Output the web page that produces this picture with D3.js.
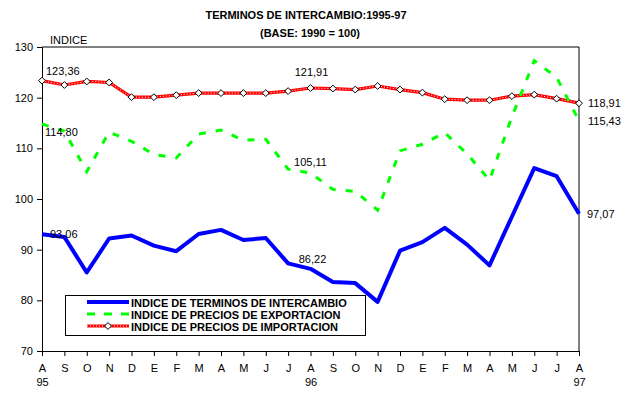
<!DOCTYPE html>
<html>
<head>
<meta charset="utf-8">
<script src="https://cdn.jsdelivr.net/npm/d3@7"></script>
<style>
  body { margin: 0; background: #fff; }
  text { font-family: Arial, "Liberation Sans", sans-serif; }
</style>
</head>
<body>
<div id="chart"></div>
<script>
// months aug-95 .. aug-97
months = ["A","S","O","N","D","E","F","M","A","M","J","J","A","S","O","N","D","E","F","M","A","M","J","J","A"]
years = ["95", "", "", "", "", "", "", "", "", "", "", "", "96", "", "", "", "", "", "", "", "", "", "", "", "97"]
yTicks = [70, 80, 90, 100, 110, 120, 130]

terminos = [93.06, 92.5, 85.5, 92.2, 92.8, 90.8, 89.7, 93.1, 93.9, 91.9, 92.3, 87.3, 86.22,
  83.6, 83.4, 79.7, 89.8, 91.5, 94.3, 91.0, 86.9, 96.5, 106.1, 104.5, 97.07]
exportacion = [114.80, 113.4, 105.4, 113.2, 111.4, 108.8, 108.1, 112.8, 113.6, 111.6, 111.8, 105.9, 105.11,
  101.9, 101.5, 97.8, 109.5, 110.8, 113.1, 108.9, 103.7, 116.2, 127.3, 124.0, 115.43]
importacion = [123.36, 122.5, 123.2, 123.0, 120.1, 120.1, 120.5, 120.9, 120.9, 120.9, 120.9, 121.3, 121.91,
  121.8, 121.6, 122.3, 121.6, 121.0, 119.7, 119.5, 119.5, 120.3, 120.6, 119.8, 118.91]

legendNames = ["INDICE DE TERMINOS DE INTERCAMBIO", "INDICE DE PRECIOS DE EXPORTACION", "INDICE DE PRECIOS DE IMPORTACION"]

const width = 628, height = 397
const margin = { top: 47, right: 49, bottom: 46, left: 42 }

const svg = d3.select("#chart").append("svg")
  .attr("width", width)
  .attr("height", height)

const x = d3.scalePoint()
  .domain(d3.range(months.length))
  .range([margin.left, width - margin.right])
const y = d3.scaleLinear()
  .domain([70, 130])
  .range([height - margin.bottom, margin.top])

// title
svg.append("text").attr("x", 306).attr("y", 19).attr("text-anchor", "middle")
  .style("font-size", "11px").style("font-weight", "bold")
  .text("TERMINOS DE INTERCAMBIO:1995-97")
svg.append("text").attr("x", 310).attr("y", 37).attr("text-anchor", "middle")
  .style("font-size", "11px").style("font-weight", "bold")
  .text("(BASE: 1990 = 100)")
svg.append("text").attr("x", 50).attr("y", 44)
  .style("font-size", "11px")
  .text("INDICE")

// plot frame (top + right)
svg.append("path")
  .attr("d", `M${margin.left},${margin.top}H${width - margin.right}V${height - margin.bottom}`)
  .attr("fill", "none").attr("stroke", "#000")

// axes
const yAxis = svg.append("g")
  .attr("transform", `translate(${margin.left},0)`)
  .call(d3.axisLeft(y).tickValues(yTicks).tickSize(5).tickPadding(4))
const xAxis = svg.append("g")
  .attr("transform", `translate(0,${height - margin.bottom})`)
  .call(d3.axisBottom(x).tickFormat(i => months[i]).tickSize(5).tickPadding(8))
svg.selectAll(".tick text").style("font-size", "11px").style("font-family", "Arial, 'Liberation Sans', sans-serif").attr("fill", "#000")
svg.selectAll(".domain").attr("stroke", "#000")

xAxis.selectAll(".tick")
  .append("text")
  .attr("y", 35)
  .attr("fill", "#000")
  .style("font-size", "11px")
  .attr("text-anchor", "middle")
  .text(i => years[i])

const line = d3.line().x((d, i) => x(i)).y(d => y(d))

// import line: red chain with diamonds
svg.append("path").datum(importacion)
  .attr("d", line).attr("fill", "none")
  .attr("stroke", "#ff0000").attr("stroke-width", 3.2)
svg.append("path").datum(importacion)
  .attr("d", line).attr("fill", "none")
  .attr("stroke", "#fff").attr("stroke-width", 1).attr("stroke-dasharray", "1,2")

const diamond = d3.symbol().type(d3.symbolDiamond2).size(30)
svg.append("g").selectAll("path")
  .data(importacion)
  .join("path")
  .attr("d", diamond)
  .attr("transform", (d, i) => `translate(${x(i)},${y(d)})`)
  .attr("fill", "#fff").attr("stroke", "#000")

// export line: green dashes
svg.append("path").datum(exportacion)
  .attr("d", line).attr("fill", "none")
  .attr("stroke", "#00ff00").attr("stroke-width", 3)
  .attr("stroke-dasharray", "7,10")

// terms of trade: thick blue
svg.append("path").datum(terminos)
  .attr("d", line).attr("fill", "none")
  .attr("stroke", "#0000ff").attr("stroke-width", 4)
  .attr("stroke-linejoin", "round")

// data labels (first, middle, last point)
const labelSpots = [
  { s: importacion, i: 0, dx: 4, dy: -10, anchor: "start" },
  { s: exportacion, i: 0, dx: 3, dy: 8, anchor: "start" },
  { s: terminos, i: 0, dx: 8, dy: 0, anchor: "start" },
  { s: importacion, i: 12, dx: 1, dy: -16, anchor: "middle" },
  { s: exportacion, i: 12, dx: 0, dy: -11, anchor: "middle" },
  { s: terminos, i: 12, dx: 2, dy: -10, anchor: "middle" },
  { s: importacion, i: 24, dx: 9, dy: 0, anchor: "start" },
  { s: exportacion, i: 24, dx: 9, dy: 0, anchor: "start" },
  { s: terminos, i: 24, dx: 8, dy: 0, anchor: "start" }
]
svg.append("g").selectAll("text")
  .data(labelSpots)
  .join("text")
  .attr("x", d => x(d.i) + d.dx)
  .attr("y", d => y(d.s[d.i]) + d.dy + 4)
  .attr("text-anchor", d => d.anchor)
  .style("font-size", "11px")
  .text(d => d.s[d.i].toFixed(2).replace(".", ","))

// legend
const legend = svg.append("g")
legend.append("rect")
  .attr("x", 65.5).attr("y", 295.5).attr("width", 300).attr("height", 40)
  .attr("fill", "#fff").attr("stroke", "#000")
const rows = [302, 314, 326]
legend.append("line").attr("x1", 87).attr("x2", 129).attr("y1", rows[0]).attr("y2", rows[0])
  .attr("stroke", "#0000ff").attr("stroke-width", 4)
legend.append("line").attr("x1", 87).attr("x2", 129).attr("y1", rows[1]).attr("y2", rows[1])
  .attr("stroke", "#00ff00").attr("stroke-width", 3).attr("stroke-dasharray", "8,9")
legend.append("line").attr("x1", 87).attr("x2", 129).attr("y1", rows[2]).attr("y2", rows[2])
  .attr("stroke", "#ff0000").attr("stroke-width", 3.2)
legend.append("line").attr("x1", 87).attr("x2", 129).attr("y1", rows[2]).attr("y2", rows[2])
  .attr("stroke", "#fff").attr("stroke-width", 1).attr("stroke-dasharray", "1,2")
legend.append("path").attr("d", diamond)
  .attr("transform", `translate(108,${rows[2]})`)
  .attr("fill", "#fff").attr("stroke", "#000")
legend.selectAll("text.lg")
  .data(legendNames)
  .join("text")
  .attr("class", "lg")
  .attr("x", 131)
  .attr("y", (d, i) => rows[i] + 4.5)
  .style("font-size", "11px").style("font-weight", "bold")
  .text(d => d)
</script>
</body>
</html>
